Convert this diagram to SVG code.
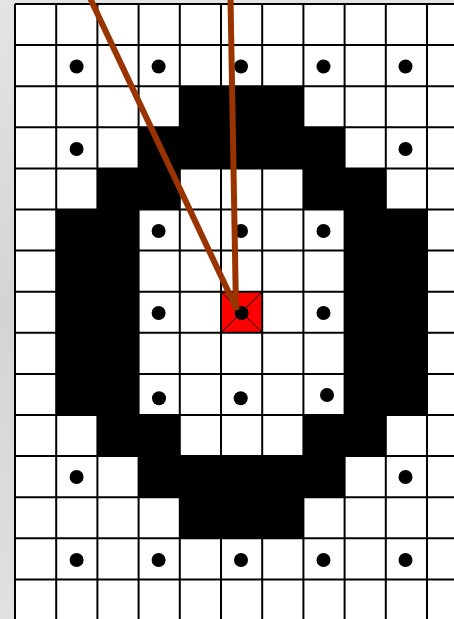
<svg xmlns="http://www.w3.org/2000/svg" width="454" height="619" viewBox="0 0 454 619">
<defs>
<style>
.grid line{stroke:#000;stroke-width:2}
.blk{fill:#000}
.dot{fill:#000}
.ptr{stroke:#993300;stroke-width:6;fill:none}
</style>
<linearGradient id="bg" x1="0" y1="0" x2="0" y2="1">
<stop offset="0" stop-color="#e4e4e4"/>
<stop offset="0.5" stop-color="#d4d4d4"/>
<stop offset="1" stop-color="#e0e0e0"/>
</linearGradient>
</defs>
<rect x="0" y="0" width="454" height="619" fill="url(#bg)"/>
<rect x="15" y="4" width="439" height="615" fill="#fff"/>
<g id="target">
<rect x="221" y="291.7" width="41.2" height="41.1" fill="#ff0000"/>
<line x1="221" y1="291.7" x2="262.2" y2="332.8" stroke="#000" stroke-width="1"/>
<line x1="262.2" y1="291.7" x2="221" y2="332.8" stroke="#000" stroke-width="1"/>
</g>
<g id="grid" class="grid">
<line x1="15" y1="4" x2="15" y2="619"/>
<line x1="56.2" y1="4" x2="56.2" y2="619"/>
<line x1="97.4" y1="4" x2="97.4" y2="619"/>
<line x1="138.6" y1="4" x2="138.6" y2="619"/>
<line x1="179.8" y1="4" x2="179.8" y2="619"/>
<line x1="221" y1="4" x2="221" y2="619"/>
<line x1="262.2" y1="4" x2="262.2" y2="619"/>
<line x1="303.4" y1="4" x2="303.4" y2="619"/>
<line x1="344.6" y1="4" x2="344.6" y2="619"/>
<line x1="385.8" y1="4" x2="385.8" y2="619"/>
<line x1="427" y1="4" x2="427" y2="619"/>
<line x1="15" y1="4" x2="454" y2="4"/>
<line x1="15" y1="45.1" x2="454" y2="45.1"/>
<line x1="15" y1="86.2" x2="454" y2="86.2"/>
<line x1="15" y1="127.3" x2="454" y2="127.3"/>
<line x1="15" y1="168.4" x2="454" y2="168.4"/>
<line x1="15" y1="209.5" x2="454" y2="209.5"/>
<line x1="15" y1="250.6" x2="454" y2="250.6"/>
<line x1="15" y1="291.7" x2="454" y2="291.7"/>
<line x1="15" y1="332.8" x2="454" y2="332.8"/>
<line x1="15" y1="373.9" x2="454" y2="373.9"/>
<line x1="15" y1="415" x2="454" y2="415"/>
<line x1="15" y1="456.1" x2="454" y2="456.1"/>
<line x1="15" y1="497.2" x2="454" y2="497.2"/>
<line x1="15" y1="538.3" x2="454" y2="538.3"/>
<line x1="15" y1="579.4" x2="454" y2="579.4"/>
</g>
<g id="ring">
<rect class="blk" x="179.8" y="86.2" width="123.6" height="41.1"/>
<rect class="blk" x="138.6" y="127.3" width="206" height="41.1"/>
<rect class="blk" x="97.4" y="168.4" width="82.4" height="41.1"/>
<rect class="blk" x="303.4" y="168.4" width="82.4" height="41.1"/>
<rect class="blk" x="56.2" y="209.5" width="82.4" height="205.5"/>
<rect class="blk" x="344.6" y="209.5" width="82.4" height="205.5"/>
<rect class="blk" x="97.4" y="415" width="82.4" height="41.1"/>
<rect class="blk" x="303.4" y="415" width="82.4" height="41.1"/>
<rect class="blk" x="138.6" y="456.1" width="206" height="41.1"/>
<rect class="blk" x="179.8" y="497.2" width="123.6" height="41.1"/>
</g>
<g id="dots">
<circle class="dot" cx="76.6" cy="66.5" r="7"/>
<circle class="dot" cx="158.6" cy="66.5" r="7"/>
<circle class="dot" cx="241" cy="66.5" r="7"/>
<circle class="dot" cx="323.5" cy="66.5" r="7"/>
<circle class="dot" cx="405.5" cy="66.5" r="7"/>
<circle class="dot" cx="76.6" cy="149" r="7"/>
<circle class="dot" cx="405.5" cy="149" r="7"/>
<circle class="dot" cx="158.6" cy="231" r="7"/>
<circle class="dot" cx="241" cy="231" r="7"/>
<circle class="dot" cx="323.5" cy="231" r="7"/>
<circle class="dot" cx="158.6" cy="313" r="7"/>
<circle class="dot" cx="241.6" cy="313" r="7"/>
<circle class="dot" cx="323.5" cy="313" r="7"/>
<circle class="dot" cx="159" cy="398.3" r="7"/>
<circle class="dot" cx="240.7" cy="398.3" r="7"/>
<circle class="dot" cx="327" cy="395" r="7"/>
<circle class="dot" cx="76.6" cy="477" r="7"/>
<circle class="dot" cx="405.5" cy="477" r="7"/>
<circle class="dot" cx="76.6" cy="560" r="7"/>
<circle class="dot" cx="158.6" cy="560" r="7"/>
<circle class="dot" cx="241" cy="560" r="7"/>
<circle class="dot" cx="323.5" cy="560" r="7"/>
<circle class="dot" cx="405.5" cy="560" r="7"/>
</g>
<g id="connectors">
<line class="ptr" x1="90" y1="-2" x2="237" y2="310"/>
<line class="ptr" x1="230.5" y1="-2" x2="236" y2="310"/>
</g>
</svg>
